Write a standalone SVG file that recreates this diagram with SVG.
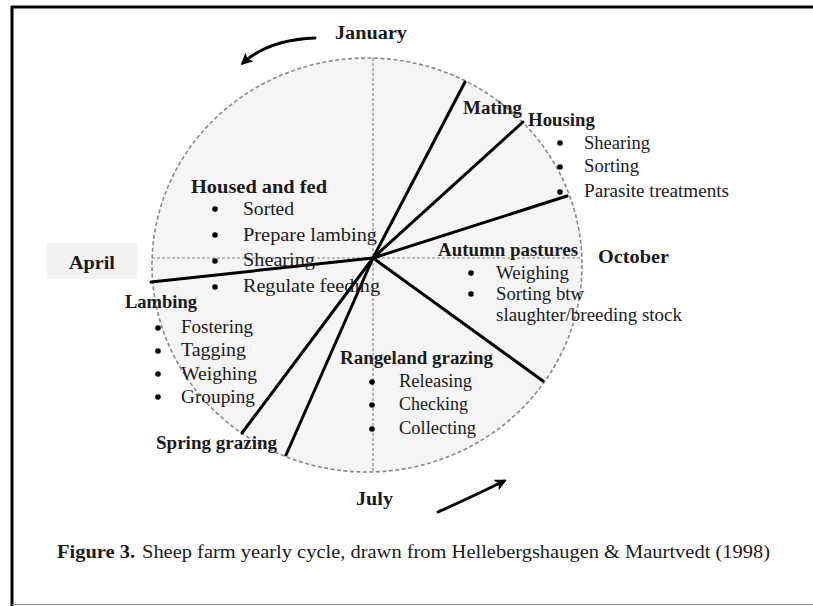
<svg xmlns="http://www.w3.org/2000/svg" width="813" height="606" viewBox="0 0 813 606">
<style>
text{font-family:"Liberation Serif","Times New Roman",serif;fill:#1a1a1a}
.b{font-weight:bold;font-size:18px}
.r{font-size:18px}
.spoke{stroke:#000;stroke-width:3;stroke-linecap:round}
.axis{stroke:#888;stroke-width:1.2;stroke-dasharray:3 2;fill:none}
.bul{fill:#000}
.arr{fill:none;stroke:#000;stroke-width:3;stroke-linecap:round}
</style>
<defs>
<marker id="ah" viewBox="0 0 12 12" refX="9" refY="6" markerWidth="12" markerHeight="12" markerUnits="userSpaceOnUse" orient="auto">
<path d="M0,0 L12,6 L0,12 L3,6 z" fill="#000"/>
</marker>
</defs>
<rect width="813" height="606" fill="#fff"/>
<g id="frame">
<line x1="11" y1="7" x2="813" y2="7" stroke="#000" stroke-width="3"/>
<line x1="12" y1="6" x2="12" y2="606" stroke="#000" stroke-width="3"/>
<line x1="12" y1="604.5" x2="813" y2="604.5" stroke="#888" stroke-width="1"/>
</g>
<g id="circle">
<ellipse cx="367" cy="265" rx="215" ry="207" fill="#f5f5f5" stroke="#888" stroke-width="1.6" stroke-dasharray="4 2.5"/>
<line class="axis" x1="373" y1="58" x2="373" y2="472"/>
<line class="axis" x1="152" y1="258" x2="582" y2="258"/>
</g>
<g id="connectors">
<line class="spoke" x1="373" y1="258" x2="465" y2="82"/>
<line class="spoke" x1="373" y1="258" x2="523" y2="122"/>
<line class="spoke" x1="373" y1="258" x2="567" y2="196"/>
<line class="spoke" x1="373" y1="258" x2="543" y2="381"/>
<line class="spoke" x1="373" y1="258" x2="286" y2="455"/>
<line class="spoke" x1="373" y1="258" x2="242" y2="433"/>
<line class="spoke" x1="373" y1="258" x2="151" y2="282"/>
<path class="arr" d="M315,38 Q268,40 243,63" marker-end="url(#ah)"/>
<path class="arr" d="M438,512 Q478,494 504,481" marker-end="url(#ah)"/>
</g>
<g id="months">
<text class="b" x="335" y="39" textLength="72" lengthAdjust="spacingAndGlyphs">January</text>
<rect x="47" y="243" width="90" height="36" fill="#f2f2f2"/>
<text class="b" x="69" y="269" textLength="46" lengthAdjust="spacingAndGlyphs">April</text>
<text class="b" x="598" y="263" textLength="71" lengthAdjust="spacingAndGlyphs">October</text>
<text class="b" x="356" y="505" textLength="37" lengthAdjust="spacingAndGlyphs">July</text>
</g>
<g id="housed">
<text class="b" x="191" y="193" textLength="136" lengthAdjust="spacingAndGlyphs">Housed and fed</text>
<circle class="bul" cx="215" cy="209" r="2.8"/><text class="r" x="243" y="215" textLength="51" lengthAdjust="spacingAndGlyphs">Sorted</text>
<circle class="bul" cx="215" cy="235" r="2.8"/><text class="r" x="243" y="241" textLength="134" lengthAdjust="spacingAndGlyphs">Prepare lambing</text>
<circle class="bul" cx="215" cy="261" r="2.8"/><text class="r" x="243" y="266" textLength="72" lengthAdjust="spacingAndGlyphs">Shearing</text>
<circle class="bul" cx="215" cy="287" r="2.8"/><text class="r" x="243" y="292" textLength="137" lengthAdjust="spacingAndGlyphs">Regulate feeding</text>
</g>
<g id="lambing">
<text class="b" x="125" y="308" textLength="72" lengthAdjust="spacingAndGlyphs">Lambing</text>
<circle class="bul" cx="158" cy="328" r="2.8"/><text class="r" x="181" y="333" textLength="72" lengthAdjust="spacingAndGlyphs">Fostering</text>
<circle class="bul" cx="158" cy="351" r="2.8"/><text class="r" x="181" y="356" textLength="65" lengthAdjust="spacingAndGlyphs">Tagging</text>
<circle class="bul" cx="158" cy="374" r="2.8"/><text class="r" x="181" y="380" textLength="76" lengthAdjust="spacingAndGlyphs">Weighing</text>
<circle class="bul" cx="158" cy="397" r="2.8"/><text class="r" x="181" y="403" textLength="74" lengthAdjust="spacingAndGlyphs">Grouping</text>
</g>
<g id="spring">
<text class="b" x="156" y="449" textLength="121" lengthAdjust="spacingAndGlyphs">Spring grazing</text>
</g>
<g id="rangeland">
<text class="b" x="340" y="364" textLength="153" lengthAdjust="spacingAndGlyphs">Rangeland grazing</text>
<circle class="bul" cx="372" cy="382" r="2.8"/><text class="r" x="399" y="387" textLength="73" lengthAdjust="spacingAndGlyphs">Releasing</text>
<circle class="bul" cx="372" cy="405" r="2.8"/><text class="r" x="399" y="410" textLength="69" lengthAdjust="spacingAndGlyphs">Checking</text>
<circle class="bul" cx="372" cy="429" r="2.8"/><text class="r" x="399" y="434" textLength="77" lengthAdjust="spacingAndGlyphs">Collecting</text>
</g>
<g id="autumn">
<text class="b" x="438" y="256" textLength="140" lengthAdjust="spacingAndGlyphs">Autumn pastures</text>
<circle class="bul" cx="471" cy="273" r="2.8"/><text class="r" x="496" y="279" textLength="73" lengthAdjust="spacingAndGlyphs">Weighing</text>
<circle class="bul" cx="471" cy="294" r="2.8"/><text class="r" x="496" y="300" textLength="88" lengthAdjust="spacingAndGlyphs">Sorting btw</text>
<text class="r" x="496" y="321" textLength="186" lengthAdjust="spacingAndGlyphs">slaughter/breeding stock</text>
</g>
<g id="mating">
<text class="b" x="463" y="114" textLength="59" lengthAdjust="spacingAndGlyphs">Mating</text>
</g>
<g id="housing">
<text class="b" x="528" y="126" textLength="67" lengthAdjust="spacingAndGlyphs">Housing</text>
<circle class="bul" cx="560" cy="143" r="2.8"/><text class="r" x="584" y="148.5" textLength="66" lengthAdjust="spacingAndGlyphs">Shearing</text>
<circle class="bul" cx="560" cy="167" r="2.8"/><text class="r" x="584" y="172" textLength="55" lengthAdjust="spacingAndGlyphs">Sorting</text>
<circle class="bul" cx="560" cy="192" r="2.8"/><text class="r" x="584" y="197" textLength="145" lengthAdjust="spacingAndGlyphs">Parasite treatments</text>
</g>
<g id="caption">
<text class="b" x="57" y="558" textLength="78" lengthAdjust="spacingAndGlyphs">Figure 3.</text>
<text class="r" x="142" y="558" textLength="628" lengthAdjust="spacingAndGlyphs">Sheep farm yearly cycle, drawn from Hellebergshaugen &amp; Maurtvedt (1998)</text>
</g>
</svg>
